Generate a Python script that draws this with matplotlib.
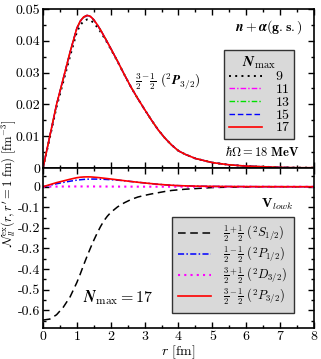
import matplotlib
matplotlib.use("Agg")
import matplotlib.pyplot as plt
from matplotlib.ticker import MultipleLocator

plt.rcParams['font.family'] = ['cmr10', 'DejaVu Serif']
plt.rcParams['mathtext.fontset'] = 'cm'
plt.rcParams['axes.unicode_minus'] = False
plt.rcParams['font.size'] = 10

# radial grid (fm)
r = [0, 0.2, 0.4, 0.6, 0.8, 1.0, 1.1, 1.2, 1.3, 1.4, 1.5, 1.6, 1.7, 1.8, 1.9, 2.0, 2.2, 2.4,
     2.6, 2.8, 3.0, 3.2, 3.4, 3.6, 3.8, 4.0, 4.2, 4.5, 5.0, 5.5, 6.0, 6.5, 7.0, 7.5, 8.0]

# top panel: 3/2- 1/2 channel, different Nmax
nmax_labels = ['9', '11', '13', '15', '17']
p32_n9 = [0, 0.0095, 0.0192, 0.0272, 0.0352, 0.0428, 0.0449, 0.0462, 0.0467, 0.0465, 0.0456,
          0.0443, 0.0428, 0.0411, 0.0393, 0.0374, 0.0335, 0.0294, 0.0254, 0.0218, 0.0184,
          0.0151, 0.0120, 0.0094, 0.0072, 0.0054, 0.0043, 0.0030, 0.0017, 0.0010, 0.0006,
          0.0004, 0.0002, 0.0001, 0.0001]
p32_n11 = [0, 0.0099, 0.0198, 0.0280, 0.0363, 0.0438, 0.0460, 0.0473, 0.0478, 0.0475, 0.0465,
           0.0450, 0.0433, 0.0414, 0.0395, 0.0376, 0.0336, 0.0294, 0.0254, 0.0218, 0.0184,
           0.0151, 0.0120, 0.0094, 0.0072, 0.0054, 0.0043, 0.0030, 0.0017, 0.0010, 0.0006,
           0.0004, 0.0002, 0.0001, 0.0001]
p32_n13 = [0, 0.0100, 0.0199, 0.0281, 0.0364, 0.0439, 0.0461, 0.0474, 0.0479, 0.0476, 0.0465,
           0.0450, 0.0434, 0.0415, 0.0396, 0.0376, 0.0336, 0.0294, 0.0254, 0.0218, 0.0184,
           0.0151, 0.0120, 0.0094, 0.0072, 0.0054, 0.0043, 0.0030, 0.0017, 0.0010, 0.0006,
           0.0004, 0.0002, 0.0001, 0.0001]
p32_n15 = [0, 0.0100, 0.0200, 0.0282, 0.0365, 0.0440, 0.0462, 0.0475, 0.0480, 0.0477, 0.0466,
           0.0451, 0.0434, 0.0415, 0.0396, 0.0376, 0.0336, 0.0294, 0.0254, 0.0218, 0.0184,
           0.0151, 0.0120, 0.0094, 0.0072, 0.0054, 0.0043, 0.0030, 0.0017, 0.0010, 0.0006,
           0.0004, 0.0002, 0.0001, 0.0001]
p32_n17 = [0, 0.0100, 0.0200, 0.0282, 0.0365, 0.0440, 0.0462, 0.0475, 0.0480, 0.0477, 0.0466,
           0.0451, 0.0434, 0.0415, 0.0396, 0.0376, 0.0336, 0.0294, 0.0254, 0.0218, 0.0184,
           0.0151, 0.0120, 0.0094, 0.0072, 0.0054, 0.0043, 0.0030, 0.0017, 0.0010, 0.0006,
           0.0004, 0.0002, 0.0001, 0.0001]

# bottom panel: all channels at Nmax = 17
s12 = [-0.648, -0.643, -0.622, -0.585, -0.535, -0.465, -0.424, -0.380, -0.338, -0.298, -0.260,
       -0.225, -0.193, -0.165, -0.143, -0.125, -0.098, -0.078, -0.062, -0.050, -0.042,
       -0.035, -0.029, -0.023, -0.018, -0.015, -0.012, -0.009, -0.004, -0.002, -0.001,
       0.0, 0.0, 0.0, 0.0]
p12 = [0, 0.0070, 0.0145, 0.0210, 0.0270, 0.0320, 0.0340, 0.0356, 0.0366, 0.0372, 0.0373,
       0.0371, 0.0366, 0.0360, 0.0352, 0.0343, 0.0320, 0.0290, 0.0254, 0.0218, 0.0184,
       0.0151, 0.0120, 0.0094, 0.0072, 0.0054, 0.0043, 0.0030, 0.0017, 0.0010, 0.0006,
       0.0004, 0.0002, 0.0001, 0.0001]
d32 = [0, 0.0004, 0.0008, 0.0011, 0.0013, 0.0014, 0.0014, 0.0014, 0.0014, 0.0013, 0.0013,
       0.0012, 0.0011, 0.0010, 0.0010, 0.0009, 0.0007, 0.0006, 0.0005, 0.0004, 0.0003,
       0.0002, 0.0002, 0.0001, 0.0001, 0.0001, 0.0, 0.0, 0.0, 0.0, 0.0, 0.0, 0.0, 0.0, 0.0]
p32 = p32_n17

chan_labels = [r'$\frac{1}{2}^{+}\frac{1}{2}\ (^2S_{1/2})$',
               r'$\frac{1}{2}^{-}\frac{1}{2}\ (^2P_{1/2})$',
               r'$\frac{3}{2}^{+}\frac{1}{2}\ (^2D_{3/2})$',
               r'$\frac{3}{2}^{-}\frac{1}{2}\ (^2P_{3/2})$']

fig = plt.figure(figsize=(3.21, 3.59), dpi=100)
ax1 = fig.add_axes([0.134, 0.532, 0.844, 0.443])
ax2 = fig.add_axes([0.134, 0.086, 0.844, 0.446])

# top panel
ax1.plot(r, p32_n9, color='black', ls=(0, (1, 2.2)), lw=1.4, label=nmax_labels[0])
ax1.plot(r, p32_n11, color='magenta', ls=(0, (4, 1.5, 1, 1.5)), lw=1.0, label=nmax_labels[1])
ax1.plot(r, p32_n13, color='#00e000', ls=(0, (4, 1.5, 1, 1.5)), lw=1.0, label=nmax_labels[2])
ax1.plot(r, p32_n15, color='blue', ls=(0, (4, 2)), lw=1.0, label=nmax_labels[3])
ax1.plot(r, p32_n17, color='red', ls='-', lw=1.2, label=nmax_labels[4])
ax1.set_xlim(0, 8)
ax1.set_ylim(0, 0.05)
ax1.set_yticks([0, 0.01, 0.02, 0.03, 0.04, 0.05])
ax1.set_yticklabels(['0', '0.01', '0.02', '0.03', '0.04', '0.05'])
ax1.yaxis.set_minor_locator(MultipleLocator(0.005))
ax1.tick_params(labelbottom=False)

leg1 = ax1.legend(loc='upper right', bbox_to_anchor=(0.926, 0.742),
                  title=r'$\boldsymbol{N}_{\rm max}$', fontsize=10, title_fontsize=11,
                  handlelength=2.4, handletextpad=1.0, borderpad=0.3, labelspacing=0.0,
                  fancybox=False, framealpha=1, borderaxespad=0)
leg1.get_frame().set_facecolor('#d9d9d9')
leg1.get_frame().set_edgecolor('#333333')
leg1.get_frame().set_linewidth(1.0)
for t in leg1.get_texts():
    t.set_ha('right')

ax1.text(0.959, 0.887, r'$\boldsymbol{n+\alpha}(\mathbf{g.s.})$', transform=ax1.transAxes,
         ha='right', va='center', fontsize=10)
ax1.text(0.948, 0.10, r'$\hbar\mathbf{\Omega} = \mathbf{18\ MeV}$', transform=ax1.transAxes,
         ha='right', va='center', fontsize=9)
ax1.text(0.34, 0.54, r'$\frac{\mathbf{3}}{\mathbf{2}}^{-}\frac{\mathbf{1}}{\mathbf{2}}\ (^\mathbf{2}\boldsymbol{P}_{\mathbf{3/2}})$',
         transform=ax1.transAxes, ha='left', va='center', fontsize=9.5)

# bottom panel
ax2.plot(r, s12, color='black', ls=(0, (5, 3)), lw=1.1, label=chan_labels[0])
ax2.plot(r, p12, color='blue', ls=(0, (4, 1.5, 1, 1.5)), lw=1.1, label=chan_labels[1])
ax2.plot(r, d32, color='magenta', ls=(0, (1, 2)), lw=1.5, label=chan_labels[2])
ax2.plot(r, p32, color='red', ls='-', lw=1.2, label=chan_labels[3])
ax2.set_xlim(0, 8)
ax2.set_ylim(-0.687, 0.091)
ax2.set_yticks([-0.6, -0.5, -0.4, -0.3, -0.2, -0.1, 0])
ax2.set_yticklabels(['-0.6', '-0.5', '-0.4', '-0.3', '-0.2', '-0.1', '0'])
ax2.yaxis.set_minor_locator(MultipleLocator(0.05))
ax2.set_xlabel(r'$r$ [fm]', fontsize=10, labelpad=0)

leg2 = ax2.legend(loc='upper right', bbox_to_anchor=(0.926, 0.694), fontsize=9,
                  handlelength=2.6, handletextpad=1.0, borderpad=0.5, labelspacing=0.05,
                  fancybox=False, framealpha=1, borderaxespad=0)
leg2.get_frame().set_facecolor('#d9d9d9')
leg2.get_frame().set_edgecolor('#333333')
leg2.get_frame().set_linewidth(1.0)

ax2.text(0.923, 0.775, r'$\mathbf{V}_{lowk}$', transform=ax2.transAxes,
         ha='right', va='center', fontsize=10)
ax2.text(0.148, 0.19, r'$\boldsymbol{N}_{\rm max} = \mathbf{17}$', transform=ax2.transAxes,
         ha='left', va='center', fontsize=11.5)

for ax in (ax1, ax2):
    ax.xaxis.set_major_locator(MultipleLocator(1))
    ax.xaxis.set_minor_locator(MultipleLocator(0.5))
    ax.tick_params(which='both', direction='in', top=True, right=True, width=1.0)
    ax.tick_params(which='major', length=4, labelsize=10, pad=2)
    ax.tick_params(which='minor', length=2.5)
    for s in ax.spines.values():
        s.set_linewidth(1.2)

fig.text(0.026, 0.49, r"$\boldsymbol{\mathcal{N}}^{\rm ex}_{ll}(r,r'=1\ {\rm fm})\ [{\rm fm}^{-3}]$",
         rotation=90, ha='center', va='center', fontsize=9)

fig.savefig('out.png', dpi=100)
